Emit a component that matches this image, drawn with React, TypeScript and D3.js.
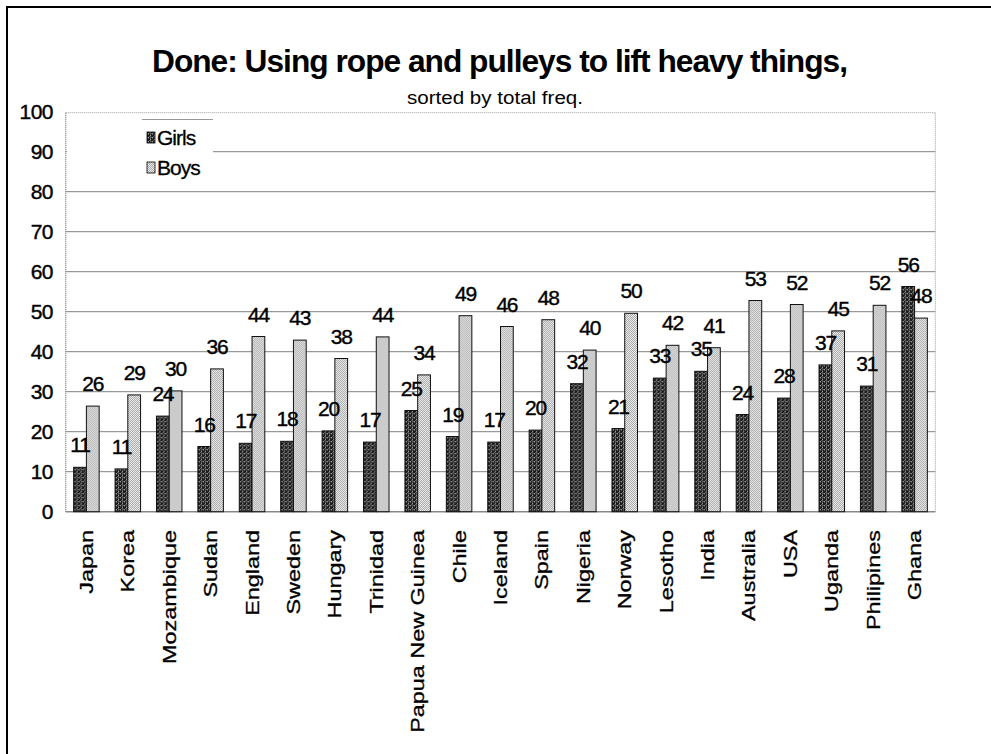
import React from 'react';
import * as d3 from 'd3';

const countries = ['Japan', 'Korea', 'Mozambique', 'Sudan', 'England', 'Sweden', 'Hungary', 'Trinidad', 'Papua New Guinea', 'Chile', 'Iceland', 'Spain', 'Nigeria', 'Norway', 'Lesotho', 'India', 'Australia', 'USA', 'Uganda', 'Philipines', 'Ghana'];
const girls = [11.1, 10.7, 23.9, 16.3, 17.1, 17.6, 20.2, 17.4, 25.3, 18.8, 17.4, 20.4, 32.0, 20.8, 33.4, 35.1, 24.3, 28.4, 36.7, 31.4, 56.3];
const boys = [26.4, 29.2, 30.2, 35.7, 43.8, 42.9, 38.3, 43.7, 34.2, 49.0, 46.3, 48.0, 40.4, 49.6, 41.6, 41.0, 52.8, 51.8, 45.2, 51.6, 48.4];
const series = ['Girls', 'Boys'];
const yTicks = [0, 10, 20, 30, 40, 50, 60, 70, 80, 90, 100];

const TITLE = 'Done: Using rope and pulleys to lift heavy things,';
const SUBTITLE = 'sorted by total freq.';

const W = 991;
const H = 754;
const FONT = '"Liberation Sans", Arial, sans-serif';

export default function App() {
  const x0 = d3.scaleBand<string>()
    .domain(countries)
    .range([65.7, 935.3])
    .paddingInner(0.384)
    .paddingOuter(0.192);
  const x1 = d3.scaleBand<string>().domain(series).range([0, x0.bandwidth()]);
  const y = d3.scaleLinear().domain([0, 100]).range([511.7, 111.7]);
  const fmt = d3.format('.0f');

  const [xl, xr] = x0.range();

  return (
    <svg width={W} height={H} style={{ position: 'absolute', left: 0, top: 0, display: 'block', background: '#fff' }}>
      <defs>
        <pattern id="pat-girls" width={4} height={4} patternUnits="userSpaceOnUse">
          <rect width={4} height={4} fill="#5a5a5a" />
          <rect x={0} y={0} width={2} height={1} fill="#1a1a1a" />
          <rect x={2} y={1} width={1} height={2} fill="#1a1a1a" />
          <rect x={0} y={2} width={1} height={2} fill="#1a1a1a" />
          <rect x={1} y={3} width={2} height={1} fill="#1a1a1a" />
          <rect x={3} y={3} width={1} height={1} fill="#9a9a9a" />
          <rect x={1} y={1} width={1} height={1} fill="#9a9a9a" />
        </pattern>
        <pattern id="pat-boys" width={2} height={2} patternUnits="userSpaceOnUse">
          <rect width={2} height={2} fill="#eeeeee" />
          <rect x={0} y={0} width={1} height={1} fill="#a8a8a8" />
          <rect x={1} y={1} width={1} height={1} fill="#a8a8a8" />
        </pattern>
      </defs>

      {/* outer frame, cut off at right and bottom */}
      <rect x={7} y={7} width={W + 20} height={H + 20} fill="none" stroke="#000" strokeWidth={2} />

      {/* title */}
      <text x={499.5} y={72} textAnchor="middle" fontFamily={FONT} fontWeight="bold" fontSize={32}
        letterSpacing={-1} textLength={695} lengthAdjust="spacingAndGlyphs">{TITLE}</text>
      <text x={495} y={104} textAnchor="middle" fontFamily={FONT} fontSize={18}
        textLength={176} lengthAdjust="spacingAndGlyphs">{SUBTITLE}</text>

      {/* gridlines */}
      {yTicks.filter(t => t > 0 && t < 100).map(t => (
        <line key={t} x1={xl} x2={xr} y1={y(t)} y2={y(t)} stroke="#808080" strokeWidth={1} />
      ))}
      {/* plot area border */}
      <line x1={xl} x2={xr} y1={y(100) + 1} y2={y(100) + 1} stroke="#999" strokeDasharray="1,1" />
      <line x1={xr} x2={xr} y1={y(100) + 1} y2={y(0)} stroke="#999" strokeDasharray="1,1" />
      <line x1={xl} x2={xl} y1={y(100) + 1} y2={y(0)} stroke="#888" strokeDasharray="1,1" strokeWidth={1.5} />
      <line x1={xl} x2={xr} y1={y(0)} y2={y(0)} stroke="#888" strokeWidth={1.5} />

      {/* y tick labels */}
      {yTicks.map(t => (
        <text key={t} x={53} y={y(t)} dy="0.36em" textAnchor="end" fontFamily={FONT} fontSize={21}
          letterSpacing={-0.5} fill="#000" stroke="#000" strokeWidth={0.4}>{t}</text>
      ))}

      {/* legend */}
      <rect x={67} y={119} width={146} height={70} fill="#fff" />
      <line x1={142} x2={213} y1={119.5} y2={119.5} stroke="#999" />
      {series.map((s, i) => (
        <g key={s} transform={`translate(147,${132 + i * 30})`}>
          <rect x={0} y={0} width={8} height={11} fill={`url(#pat-${s.toLowerCase()})`} stroke="#000" strokeWidth={0.8} />
          <text x={10} y={13} fontFamily={FONT} fontSize={21} letterSpacing={-1} stroke="#000" strokeWidth={0.3}>{s}</text>
        </g>
      ))}

      {/* bars */}
      {countries.map((c, i) => {
        const vals = [girls[i], boys[i]];
        return (
          <g key={c} transform={`translate(${x0(c)},0)`}>
            {series.map((s, j) => (
              <rect key={s} x={x1(s)} y={y(vals[j])} width={x1.bandwidth()} height={y(0) - y(vals[j])}
                fill={`url(#pat-${s.toLowerCase()})`} stroke="#111" strokeWidth={1} />
            ))}
            {series.map((s, j) => (
              <text key={s} x={(x1(s) ?? 0) + x1.bandwidth() / 2} y={y(vals[j]) - 15} textAnchor="middle"
                fontFamily={FONT} fontSize={21} letterSpacing={-1.2} stroke="#000" strokeWidth={0.4}>{fmt(vals[j])}</text>
            ))}
          </g>
        );
      })}

      {/* x labels */}
      {countries.map(c => (
        <text key={c} transform={`translate(${(x0(c) ?? 0) + x0.bandwidth() / 2},530) rotate(-90) scale(1.3,1)`}
          textAnchor="end" dy="0.36em" fontFamily={FONT} fontSize={18} stroke="#000" strokeWidth={0.3}>{c}</text>
      ))}
    </svg>
  );
}
